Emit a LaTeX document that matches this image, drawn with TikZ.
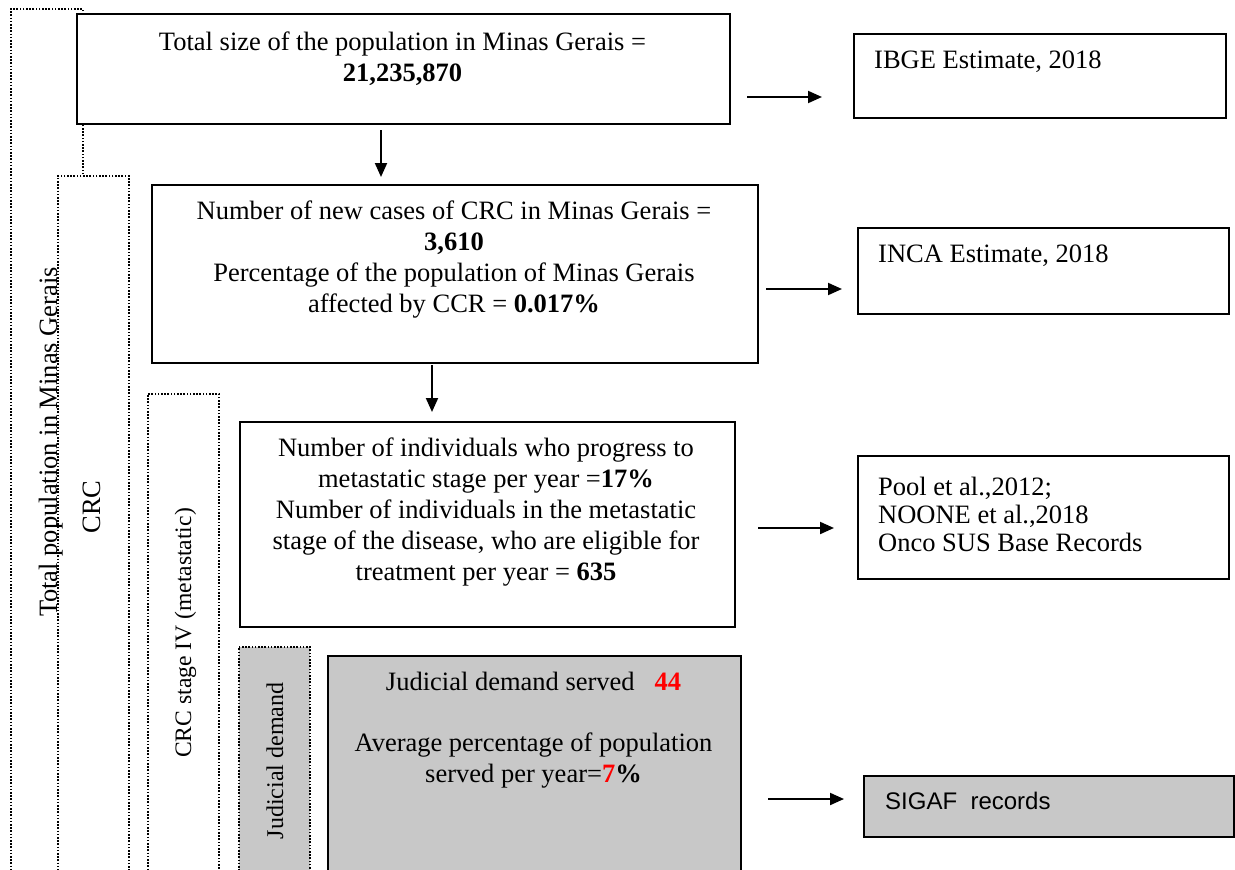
\documentclass[tikz,border=0pt]{standalone}
\usepackage{fontspec}
\setmainfont{Liberation Serif}
\newfontfamily\arialfont{Liberation Sans}
\usetikzlibrary{arrows.meta}
\definecolor{boxgray}{RGB}{200,200,200}
\definecolor{numred}{RGB}{255,0,0}
\tikzset{
  solidbox/.style={draw=black, line width=2pt, fill=white, inner sep=0pt, anchor=north west},
  graybox/.style={solidbox, fill=boxgray},
  dotbox/.style={draw=black, line width=1.6pt, dash pattern=on 1.6pt off 1.6pt, fill=white, inner sep=0pt, anchor=north west},
  dotgray/.style={dotbox, fill=boxgray},
  txt/.style={inner sep=0pt, align=center, anchor=base, font=\fontsize{26.5}{31}\selectfont},
  ltxt/.style={inner sep=0pt, align=left, anchor=base west, font=\fontsize{26.5}{28}\selectfont},
  side/.style={inner sep=0pt, rotate=90, anchor=base, font=\fontsize{26.5}{31}\selectfont},
  arr/.style={line width=2pt, -{Triangle[length=14pt,width=12pt]}},
}
\begin{document}
\begin{tikzpicture}[x=1pt,y=-1pt]
\clip (0,0) rectangle (1235,870);
% nested dotted frames
\node[dotbox, minimum width=72pt, minimum height=900pt] (outer) at (10,8) {};
\node[dotbox, minimum width=71pt, minimum height=720pt] (crcframe) at (57,175) {};
\node[dotbox, minimum width=71pt, minimum height=500pt] (stageframe) at (147,393) {};
\node[dotgray, minimum width=71pt, minimum height=250pt] (judframe) at (238,646) {};
% side labels
\node[side] (outerlbl) at (57,442) {Total population in Minas Gerais};
\node[side] (crclbl) at (100,507) {CRC};
\node[side, font=\fontsize{23.6}{28}\selectfont] (stagelbl) at (191,633) {CRC stage IV (metastatic)};
\node[side, font=\fontsize{24}{28}\selectfont] (judlbl) at (283,761) {Judicial demand};
% main boxes
\node[solidbox, minimum width=653pt, minimum height=110pt] (b1) at (76,13) {};
\node[solidbox, minimum width=606pt, minimum height=178pt] (b2) at (151,184) {};
\node[solidbox, minimum width=495pt, minimum height=205pt] (b3) at (239,421) {};
\node[graybox, minimum width=413pt, minimum height=300pt] (b4) at (327,655) {};
% source boxes
\node[solidbox, minimum width=372pt, minimum height=84pt] (s1) at (853,33) {};
\node[solidbox, minimum width=371pt, minimum height=86pt] (s2) at (857,227) {};
\node[solidbox, minimum width=371pt, minimum height=123pt] (s3) at (857,455) {};
\node[graybox, minimum width=370pt, minimum height=61pt] (s4) at (863,775) {};
% texts (base anchor = baseline of the last line)
\node[txt] (t1) at (402.5,81) {Total size of the population in Minas Gerais =\\\textbf{21,235,870}};
\node[txt] (t2) at (454,312) {Number of new cases of CRC in Minas Gerais =\\\textbf{3,610}\\Percentage of the population of Minas Gerais\\affected by CCR = \textbf{0.017\%}};
\node[txt] (t3) at (486,580) {Number of individuals who progress to\\metastatic stage per year =\textbf{17\%}\\Number of individuals in the metastatic\\stage of the disease, who are eligible for\\treatment per year = \textbf{635}};
\node[txt] (t4) at (533.5,782) {Judicial demand served~~~\textbf{\color{numred}44}\\[30pt]Average percentage of population\\served per year=\textbf{\color{numred}7}\textbf{\%}};
\node[ltxt] (u1) at (874,68) {IBGE Estimate, 2018};
\node[ltxt] (u2) at (878,262) {INCA Estimate, 2018};
\node[ltxt] (u3) at (878,551) {Pool et al.,2012;\\NOONE et al.,2018\\Onco SUS Base Records};
\node[ltxt, font=\arialfont\fontsize{24}{28}\selectfont] (u4) at (885,809) {SIGAF~~records};
% arrow end points
\coordinate (a1s) at (747,97);  \coordinate (a1e) at (822,97);
\coordinate (a2s) at (766,289); \coordinate (a2e) at (842,289);
\coordinate (a3s) at (758,528); \coordinate (a3e) at (834,528);
\coordinate (a4s) at (768,799); \coordinate (a4e) at (844,799);
\coordinate (d1s) at (381,130); \coordinate (d1e) at (381,177);
\coordinate (d2s) at (432,365); \coordinate (d2e) at (432,412);
\draw[arr] (a1s) -- (a1e);
\draw[arr] (a2s) -- (a2e);
\draw[arr] (a3s) -- (a3e);
\draw[arr] (a4s) -- (a4e);
\draw[arr] (d1s) -- (d1e);
\draw[arr] (d2s) -- (d2e);
\end{tikzpicture}
\end{document}
